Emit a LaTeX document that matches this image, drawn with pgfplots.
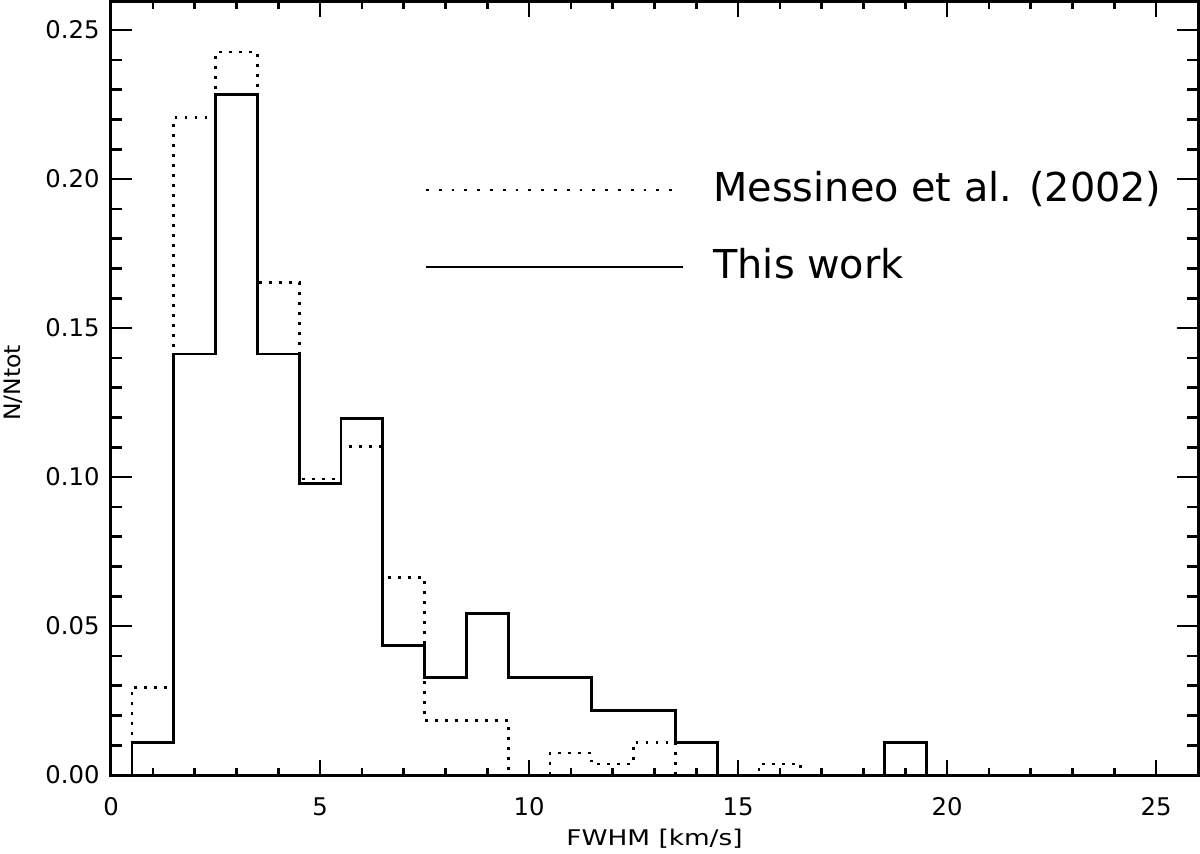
\documentclass[border=0pt]{standalone}
\usepackage{pgfplots}
\pgfplotsset{compat=1.18}
\usepackage{fontspec}
\setmainfont{DejaVu Sans}
\begin{document}
\begin{tikzpicture}
\begin{axis}[
  name=ax,
  scale only axis,
  width=543.5pt, height=386.5pt,
  xmin=0, xmax=26, ymin=0, ymax=0.2594,
  xtick={0,5,...,25},
  ytick={0,0.05,0.10,0.15,0.20,0.25},
  minor x tick num=4,
  minor y tick num=4,
  tick align=inside,
  axis line style={line width=1.5pt},
  xtick style={line width=1.3pt, black, /pgfplots/major tick length=7.5pt, /pgfplots/minor tick length=3.7pt},
  ytick style={line width=1.3pt, black, /pgfplots/major tick length=10.7pt, /pgfplots/minor tick length=5.3pt},
  /pgf/number format/assume math mode=true,
  yticklabel style={/pgf/number format/fixed, /pgf/number format/fixed zerofill, /pgf/number format/precision=2, anchor=east, inner sep=0pt, xshift=-5.5pt, font=\fontsize{12.15pt}{14pt}\selectfont},
  xticklabel style={anchor=north, inner sep=0pt, yshift=-11pt, font=\fontsize{12.15pt}{14pt}\selectfont},
  scaled y ticks=false,
  xlabel={\scalebox{1.22}[1]{FWHM [km/s]}},
  ylabel={\scalebox{1.04}[1]{N/Ntot}},
  xlabel style={at={(axis description cs:0.5,-0.0915)}, anchor=base, inner sep=0pt, font=\fontsize{10.8pt}{13pt}\selectfont},
  ylabel style={at={(axis description cs:-0.0831,0.5071)}, anchor=base, inner sep=0pt, font=\fontsize{11.3pt}{13pt}\selectfont},
  clip=false,
]
% Messineo et al. (2002), dotted histogram
\addplot[black, line width=1.4pt, line cap=butt, dash pattern=on 1.4pt off 3.6pt, const plot mark left, forget plot] coordinates {
(0.5,0) (0.5,0.0294) (1.5,0.2206) (2.5,0.2426) (3.5,0.1654) (4.5,0.0993) (5.5,0.1103) (6.5,0.0662) (7.5,0.0184) (8.5,0.0184) (9.5,0) (10.5,0.0074) (11.5,0.0037) (12.5,0.0110) (13.5,0) (14.5,0) (15.5,0.0037) (16.5,0)
};
% This work, solid histogram
\addplot[black, line width=1.4pt, miter limit=4, line join=miter, const plot mark left, forget plot] coordinates {
(0.5,0) (0.5,0.01087) (1.5,0.1413) (2.5,0.2283) (3.5,0.1413) (4.5,0.0978) (5.5,0.1196) (6.5,0.0435) (7.5,0.0326) (8.5,0.0543) (9.5,0.0326) (10.5,0.0326) (11.5,0.0217) (12.5,0.0217) (13.5,0.0109) (14.5,0) (15.5,0) (16.5,0) (17.5,0) (18.5,0.0109) (19.5,0) (20.5,0)
};
% legend samples
\addplot[black, line width=1.4pt, line cap=butt, dash pattern=on 1.4pt off 5pt, forget plot] coordinates {(7.534,0.1963) (13.562,0.1963)};
\addplot[black, line width=1.4pt, forget plot] coordinates {(7.534,0.1705) (13.682,0.1705)};
\node[anchor=base west, inner sep=0pt, font=\fontsize{19.9pt}{24pt}\selectfont] at (axis cs:14.40,0.1924) {Messineo et al. (2002)};
\node[anchor=base west, inner sep=0pt, font=\fontsize{19.9pt}{24pt}\selectfont] at (axis cs:14.40,0.1667) {This work};
\end{axis}
\pgfresetboundingbox
\path[use as bounding box] ([shift={(-55.5pt,-39pt)}]ax.south west) rectangle ([shift={(1pt,1pt)}]ax.north east);
\end{tikzpicture}
\end{document}
